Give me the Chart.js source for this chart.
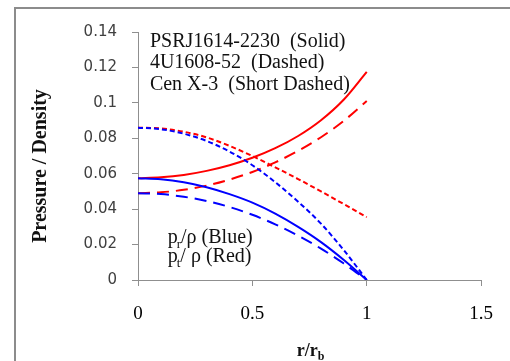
<!DOCTYPE html>
<html>
<head>
<meta charset="utf-8">
<script src="https://cdn.jsdelivr.net/npm/chart.js@4"></script>
<style>
html,body{margin:0;padding:0;background:#fff;overflow:hidden;width:510px;height:361px;}
#frame{position:absolute;left:14px;top:7px;width:620px;height:500px;border:2px solid #8c8c8c;}
#wrap{position:absolute;left:0;top:0;width:510px;height:361px;}
</style>
</head>
<body>
<div id="frame"></div>
<div id="wrap"><canvas id="c" width="510" height="361"></canvas></div>
<script>
// r / r_b sample positions
const rValues = [0, 0.1, 0.2, 0.3, 0.4, 0.5, 0.6, 0.7, 0.8, 0.9, 1.0];

// p_r / rho (blue)
const prPSRJ = [0.0575, 0.0569, 0.0552, 0.0524, 0.0485, 0.0437, 0.0375, 0.0300, 0.0214, 0.0113, 0];
const pr4U   = [0.0490, 0.0485, 0.0470, 0.0446, 0.0412, 0.0368, 0.0314, 0.0250, 0.0177, 0.0093, 0];
const prCen  = [0.0860, 0.0851, 0.0826, 0.0785, 0.0725, 0.0648, 0.0552, 0.0442, 0.0318, 0.0168, 0];

// p_t / rho (red)
const ptPSRJ = [0.0575, 0.0580, 0.0593, 0.0616, 0.0648, 0.0690, 0.0744, 0.0813, 0.0902, 0.1019, 0.1175];
const pt4U   = [0.0490, 0.0495, 0.0509, 0.0533, 0.0567, 0.0610, 0.0664, 0.0729, 0.0806, 0.0899, 0.1010];
const ptCen  = [0.0860, 0.0856, 0.0837, 0.0805, 0.0757, 0.0700, 0.0636, 0.0570, 0.0500, 0.0428, 0.0355];

const xTickLabels = ['0', '0.5', '1', '1.5'];
const yTickLabels = ['0', '0.02', '0.04', '0.06', '0.08', '0.1', '0.12', '0.14'];

const legendLines = ['PSRJ1614-2230  (Solid)', '4U1608-52  (Dashed)', 'Cen X-3  (Short Dashed)'];

function pts(arr) { return rValues.map((r, i) => ({x: r, y: arr[i]})); }

const SOLID = [], DASH = [12, 7], SHORT = [5, 3];
function ds(label, arr, color, dash) {
  return {
    label, data: pts(arr), borderColor: color, backgroundColor: color,
    borderDash: dash, borderWidth: 2, pointRadius: 0, fill: false,
    cubicInterpolationMode: 'monotone'
  };
}

const annotations = {
  id: 'annotations',
  afterDatasetsDraw(chart) {
    const ctx = chart.ctx;
    const xs = chart.scales.x, ys = chart.scales.y;
    ctx.save();
    ctx.fillStyle = '#111';
    ctx.textAlign = 'left';
    ctx.textBaseline = 'alphabetic';
    const serif = '"Liberation Serif", "Times New Roman", serif';
    // series key text
    ctx.font = '20px ' + serif;
    const lx = xs.getPixelForValue(0.052);
    const baseVals = [0.1313, 0.1195, 0.1071];
    legendLines.forEach((t, i) => ctx.fillText(t, lx, ys.getPixelForValue(baseVals[i])));
    // p_r / rho, p_t / rho
    function subText(x, y, main, sub, rest) {
      ctx.font = '20px ' + serif;
      ctx.fillText(main, x, y);
      x += ctx.measureText(main).width - 1;
      ctx.font = '13px ' + serif;
      ctx.fillText(sub, x, y + 5);
      x += ctx.measureText(sub).width;
      ctx.font = '20px ' + serif;
      ctx.fillText(rest, x, y);
    }
    const px = xs.getPixelForValue(0.13);
    subText(px, ys.getPixelForValue(0.0210), 'p', 'r', '/\u03C1 (Blue)');
    subText(px, ys.getPixelForValue(0.0102), 'p', 't', '/ \u03C1 (Red)');
    // x axis title r/r_b
    ctx.font = 'bold 18px ' + serif;
    const mainT = 'r/r';
    const wMain = ctx.measureText(mainT).width;
    ctx.font = 'bold 12px ' + serif;
    const wSub = ctx.measureText('b').width;
    const cx = (xs.left + xs.right) / 2 + 1;
    const tx = cx - (wMain + wSub) / 2;
    ctx.font = 'bold 18px ' + serif;
    ctx.fillText(mainT, tx, 356);
    ctx.font = 'bold 12px ' + serif;
    ctx.fillText('b', tx + wMain, 360);
    ctx.restore();
  }
};

new Chart(document.getElementById('c'), {
  type: 'line',
  data: {
    datasets: [
      ds('p_r PSRJ1614-2230', prPSRJ, '#0000ff', SOLID),
      ds('p_r 4U1608-52', pr4U, '#0000ff', DASH),
      ds('p_r Cen X-3', prCen, '#0000ff', SHORT),
      ds('p_t PSRJ1614-2230', ptPSRJ, '#ff0000', SOLID),
      ds('p_t 4U1608-52', pt4U, '#ff0000', DASH),
      ds('p_t Cen X-3', ptCen, '#ff0000', SHORT)
    ]
  },
  options: {
    responsive: false,
    animation: false,
    layout: {padding: {left: 0, top: 32, right: 27, bottom: 0}},
    plugins: {legend: {display: false}, tooltip: {enabled: false}},
    scales: {
      x: {
        type: 'linear', min: 0, max: 1.5,
        afterFit(s) { s.height = 81; },
        ticks: {
          stepSize: 0.5, padding: 17, color: '#000',
          font: {family: '"Liberation Serif", serif', size: 19},
          callback: (v) => xTickLabels[Math.round(v * 2)]
        },
        grid: {drawOnChartArea: false, drawTicks: true, tickLength: 6, color: '#8f8f8f'},
        border: {display: true, color: '#8f8f8f', width: 1}
      },
      y: {
        type: 'linear', min: 0, max: 0.14,
        afterFit(s) { s.width = 138; },
        ticks: {
          stepSize: 0.02, padding: 15, color: '#404040',
          font: {family: '"DejaVu Sans", sans-serif', size: 15},
          callback: (v) => yTickLabels[Math.round(v * 50)]
        },
        grid: {drawOnChartArea: false, drawTicks: true, tickLength: 6, color: '#8f8f8f'},
        border: {display: true, color: '#8f8f8f', width: 1},
        title: {
          display: true, text: 'Pressure / Density    ', color: '#111',
          font: {family: '"Liberation Serif", serif', size: 20, weight: 'bold'},
          padding: {top: 29, bottom: 0}
        }
      }
    }
  },
  plugins: [annotations]
});
</script>
</body>
</html>
